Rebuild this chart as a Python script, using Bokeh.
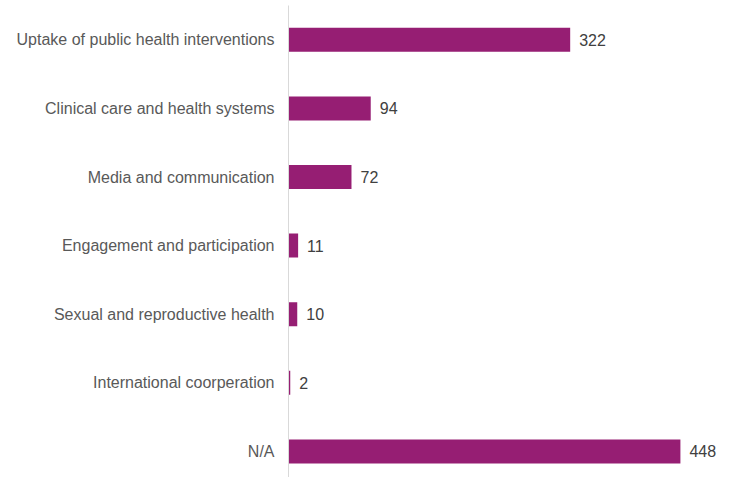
from bokeh.plotting import figure
from bokeh.models import Range1d, FixedTicker, ColumnDataSource
from bokeh.core.properties import value
from bokeh.embed import file_html
from bokeh.resources import INLINE

categories = ["Uptake of public health interventions", "Clinical care and health systems",
              "Media and communication", "Engagement and participation",
              "Sexual and reproductive health", "International coorperation", "N/A"]
counts = [322, 94, 72, 11, 10, 2, 448]

n = len(categories)
ypos = [n - 1 - i for i in range(n)]
src = ColumnDataSource(dict(y=ypos, v=counts, lbl=[str(c) for c in counts]))

p = figure(width=731, height=477, output_backend="svg", toolbar_location=None,
           x_range=Range1d(0, 506.4), y_range=Range1d(-0.38, 6.5),
           min_border_left=288, min_border_top=5, min_border_bottom=0, min_border_right=0)
p.outline_line_color = None
p.grid.visible = False
p.xaxis.visible = False
p.background_fill_color = "white"
p.border_fill_color = "white"

p.hbar(y="y", right="v", left=0, height=0.35, source=src, color="#961E73", line_color=None)
p.text(x="v", y="y", text="lbl", source=src, x_offset=9, text_baseline="middle",
       text_align="left", text_font=value("Liberation Sans"), text_font_size="16px",
       text_color="#404040")

ax = p.yaxis[0]
ax.ticker = FixedTicker(ticks=ypos)
ax.major_label_overrides = {yy: c for yy, c in zip(ypos, categories)}
ax.major_tick_line_color = None
ax.minor_tick_line_color = None
ax.major_tick_out = 0
ax.major_tick_in = 0
ax.major_label_standoff = 14
ax.axis_line_color = "#d9d9d9"
ax.axis_line_width = 1
ax.major_label_text_font = "Liberation Sans"
ax.major_label_text_font_size = "16px"
ax.major_label_text_color = "#595959"

open("out.html", "w").write(file_html(p, INLINE))
